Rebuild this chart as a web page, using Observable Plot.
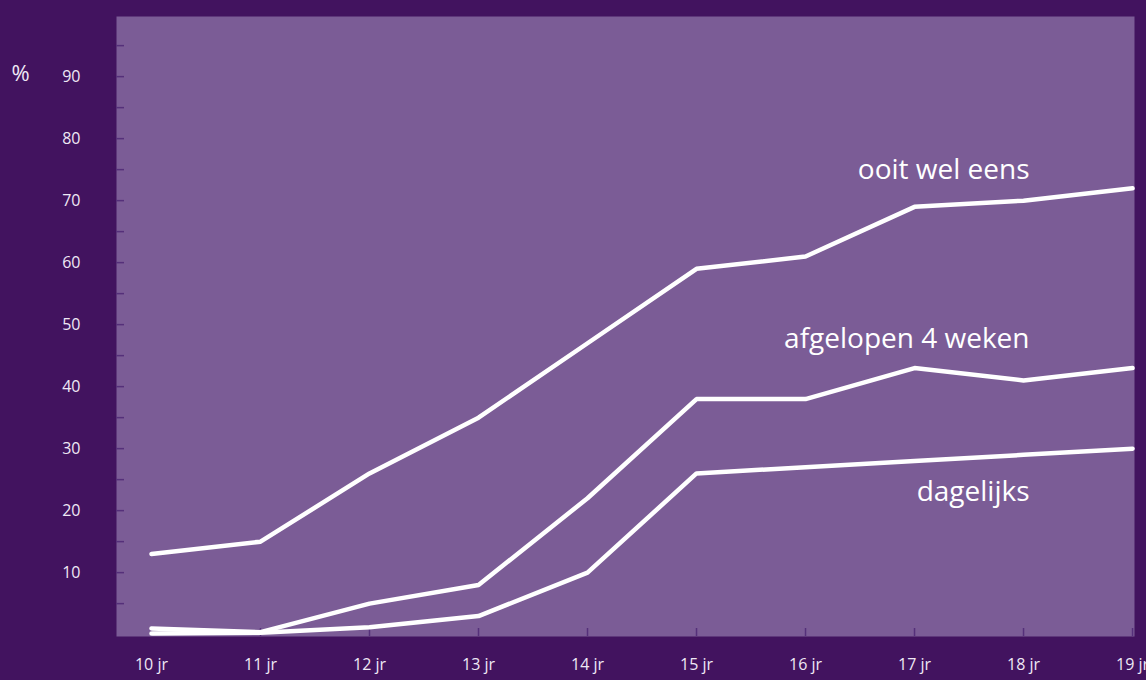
<!DOCTYPE html>
<html><head><meta charset="utf-8">
<script src="https://cdn.jsdelivr.net/npm/d3@7"></script>
<script src="https://cdn.jsdelivr.net/npm/@observablehq/plot@0.6"></script>
<style>html,body{margin:0;padding:0;background:#42135f;overflow:hidden;}</style>
</head><body><div id="chart"></div>
<script>
const ages = [10, 11, 12, 13, 14, 15, 16, 17, 18, 19];
const ooitWelEens = [13, 15, 26, 35, 47, 59, 61, 69, 70, 72];
const afgelopen4Weken = [1, 0.4, 5, 8, 22, 38, 38, 43, 41, 43];
const dagelijks = [0.2, 0.3, 1.2, 3, 10, 26, 27, 28, 29, 30];
const seriesNames = ["ooit wel eens", "afgelopen 4 weken", "dagelijks"];
const yTickLabels = [10, 20, 30, 40, 50, 60, 70, 80, 90];
const yMinorTicks = [5, 10, 15, 20, 25, 30, 35, 40, 45, 50, 55, 60, 65, 70, 75, 80, 85, 90, 95];
const xSuffix = " jr";
const unitLabel = "%";

const seriesValues = [ooitWelEens, afgelopen4Weken, dagelijks];
const rows = seriesNames.flatMap((name, i) => ages.map((a, j) => ({series: name, age: a, value: seriesValues[i][j]})));
const labelRows = seriesNames.map((name, i) => ({series: name, age: 18, value: seriesValues[i][8]}));
const labelDy = [-31, -41, 37];

const bg = "#42135f";
const panel = "#7b5c96";
const tickCol = "#55307a";
const textCol = "#efe8f5";
const font = "Open Sans";

const chart = Plot.plot({
  width: 1146,
  height: 680,
  marginLeft: 116,
  marginRight: 12,
  marginTop: 16,
  marginBottom: 44,
  style: {background: bg, fontFamily: font, color: textCol},
  x: {domain: [9.679, 19.018], type: "linear", label: null},
  y: {domain: [-0.3, 99.7], label: null},
  marks: [
    Plot.frame({fill: panel, stroke: null}),
    Plot.axisY(yMinorTicks, {tickSize: 8, dx: 8, text: null, stroke: tickCol, strokeWidth: 1.5, label: null}),
    Plot.axisY(yTickLabels, {tickSize: 0, tickPadding: 36, fontSize: 16, fill: textCol, textAnchor: "end", label: null}),
    Plot.axisX(ages, {tickSize: 8, dy: -8, text: null, stroke: tickCol, strokeWidth: 1.5, label: null}),
    Plot.axisX(ages, {tickSize: 0, tickPadding: 22, fontSize: 16, fill: textCol, tickFormat: d => d + xSuffix, label: null}),
    Plot.line(rows, {x: "age", y: "value", z: "series", stroke: "white", strokeWidth: 4.5, strokeLinecap: "round", strokeLinejoin: "miter"}),
    ...labelRows.map((r, i) => Plot.text([r], {x: "age", y: "value", text: "series", textAnchor: "end", dx: 6, dy: labelDy[i], fill: "white", fontSize: 28, fontFamily: font})),
    Plot.text([unitLabel], {frameAnchor: "top-left", dx: -96, dy: 57, fill: textCol, fontSize: 22, textAnchor: "middle", lineAnchor: "middle"})
  ]
});
document.getElementById("chart").append(chart);
</script>
</body></html>
